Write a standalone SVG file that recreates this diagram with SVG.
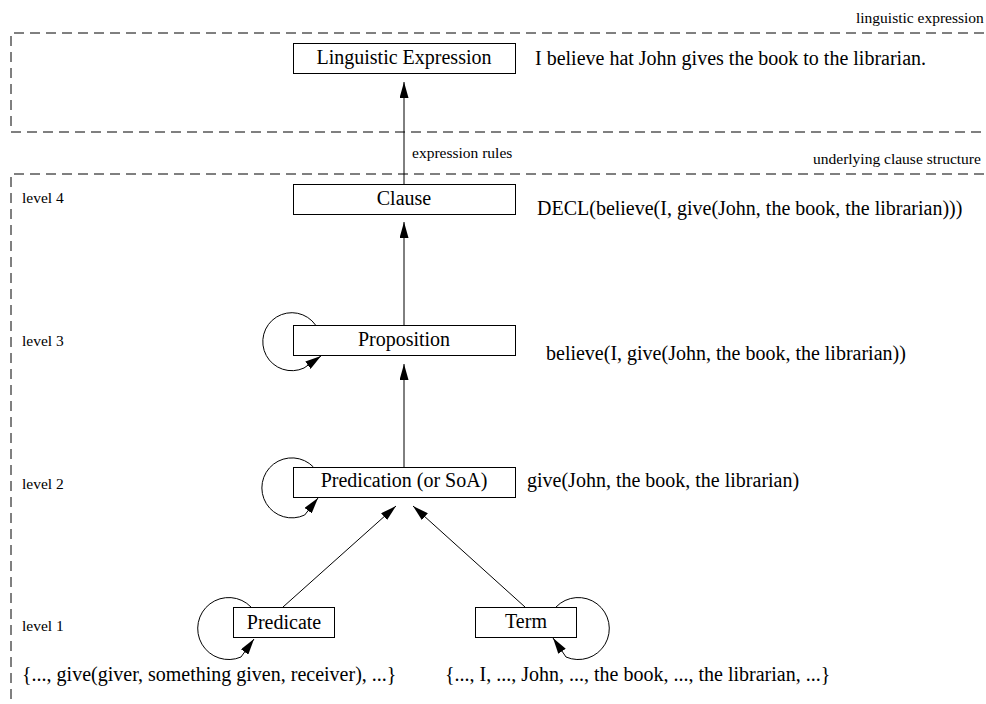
<svg xmlns="http://www.w3.org/2000/svg" width="986" height="704" viewBox="0 0 986 704">
  <defs>
    <marker id="arrow" viewBox="0 0 16 9" refX="16" refY="4.5" markerWidth="16" markerHeight="9" markerUnits="userSpaceOnUse" orient="auto">
      <path d="M0,0 L16,4.5 L0,9 Z" fill="#000"/>
    </marker>
    <style>
      .frame { fill: none; stroke: #000; stroke-width: 1; stroke-dasharray: 10 6; }
      .box { fill: #fff; stroke: #000; stroke-width: 1; }
      .edge { fill: none; stroke: #000; stroke-width: 1; marker-end: url(#arrow); }
      .label { font-family: "Liberation Serif", "Times New Roman", serif; font-size: 20px; fill: #000; }
      .small { font-family: "Liberation Serif", "Times New Roman", serif; font-size: 15.5px; fill: #000; }
    </style>
  </defs>
  <rect width="986" height="704" fill="#fff"/>

  <!-- dashed frames for the two layers -->
  <g id="frames">
    <path class="frame" d="M1000,33 H11 V132 H1000"/>
    <path class="frame" d="M1000,174 H11 V720"/>
    <text class="small" x="856" y="23">linguistic expression</text>
    <text class="small" x="813" y="164">underlying clause structure</text>
  </g>

  <!-- level labels -->
  <g id="levels">
    <text class="small" x="22" y="203">level 4</text>
    <text class="small" x="22" y="346">level 3</text>
    <text class="small" x="22" y="489">level 2</text>
    <text class="small" x="22" y="631">level 1</text>
  </g>

  <!-- connectors -->
  <g id="connectors">
    <line class="edge" x1="404" y1="184" x2="404" y2="82"/>
    <text class="small" x="412" y="158">expression rules</text>
    <line class="edge" x1="404" y1="325" x2="404" y2="222"/>
    <line class="edge" x1="404" y1="467" x2="404" y2="364"/>
    <line class="edge" x1="283" y1="607" x2="396" y2="506"/>
    <line class="edge" x1="525" y1="607" x2="413" y2="506"/>
    <!-- self loops -->
    <path class="edge" d="M315.5,325 A29,29 0 1 0 304,368 L321,356"/>
    <path class="edge" d="M313.4,467 A30,30 0 1 0 304.7,515 L318,498"/>
    <path class="edge" d="M251,607 A31,31 0 1 0 241,657 L254,639"/>
    <path class="edge" d="M556,607 A31,31 0 1 1 566,657 L553,638"/>
  </g>

  <g id="linguistic-expression">
    <rect class="box" x="293.5" y="43.5" width="222" height="30"/>
    <text class="label" x="404" y="64" text-anchor="middle">Linguistic Expression</text>
    <text class="label" x="535" y="65">I believe hat John gives the book to the librarian.</text>
  </g>

  <g id="clause">
    <rect class="box" x="293.5" y="184.5" width="222" height="30"/>
    <text class="label" x="404" y="205" text-anchor="middle">Clause</text>
    <text class="label" x="537" y="215">DECL(believe(I, give(John, the book, the librarian)))</text>
  </g>

  <g id="proposition">
    <rect class="box" x="293.5" y="325.5" width="222" height="30"/>
    <text class="label" x="404" y="346" text-anchor="middle">Proposition</text>
    <text class="label" x="546" y="360">believe(I, give(John, the book, the librarian))</text>
  </g>

  <g id="predication">
    <rect class="box" x="293.5" y="467.5" width="222" height="30"/>
    <text class="label" x="404" y="487" text-anchor="middle">Predication (or SoA)</text>
    <text class="label" x="527" y="487">give(John, the book, the librarian)</text>
  </g>

  <g id="predicate">
    <rect class="box" x="233.5" y="607.5" width="101" height="30"/>
    <text class="label" x="284" y="629" text-anchor="middle">Predicate</text>
    <text class="label" x="22" y="681">{..., give(giver, something given, receiver), ...}</text>
  </g>

  <g id="term">
    <rect class="box" x="475.5" y="607.5" width="101" height="30"/>
    <text class="label" x="526" y="628" text-anchor="middle">Term</text>
    <text class="label" x="445" y="681">{..., I, ..., John, ..., the book, ..., the librarian, ...}</text>
  </g>
</svg>
